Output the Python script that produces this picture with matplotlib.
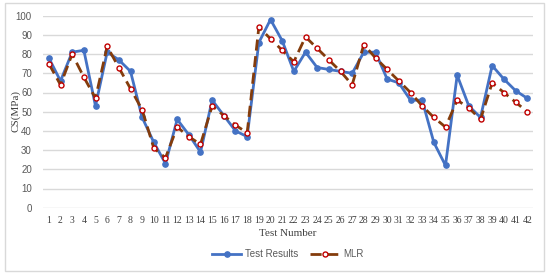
import matplotlib.pyplot as plt
from matplotlib.patches import Rectangle
import numpy as np

# Datos
tests = list(range(1, 43))
test_results = [78, 66, 81, 82, 53, 81, 77, 71, 47, 34, 23, 46, 38, 29, 56, 48, 40, 37, 86, 98, 87,
                71, 81, 73, 72, 71, 70, 81, 81, 67, 65, 56, 56, 34, 22, 69, 53, 47, 74, 67, 61, 57]
mlr = [75, 64, 80, 68, 57, 84, 73, 62, 51, 31, 26, 42, 37, 33, 53, 48, 43, 39, 94, 88, 82,
       76, 89, 83, 77, 71, 64, 85, 78, 72, 66, 60, 53, 47, 42, 56, 52, 46, 65, 60, 55, 50]
y_ticks = list(range(0, 101, 10))

fig = plt.figure(figsize=(5.5, 2.76), dpi=100)
ax = fig.add_axes([43 / 550, 1 - 207.7 / 276, 490 / 550, 192 / 276])

# Borde exterior del gráfico
fig.patches.append(Rectangle((5 / 550, 1 - 271 / 276), 539 / 550, 268 / 276,
                             transform=fig.transFigure, fill=False,
                             edgecolor='#d9d9d9', linewidth=1))

# Series
ax.plot(tests, test_results, color='#4472C4', linewidth=2, marker='o', markersize=3.8,
        markerfacecolor='#4472C4', markeredgecolor='#4472C4', label='Test Results', zorder=3)
ax.plot(tests, mlr, color='#843C0C', linewidth=2, linestyle=(0, (4, 2)), marker='o', markersize=3.6,
        markerfacecolor='white', markeredgecolor='#C00000', markeredgewidth=1, label='MLR', zorder=4)

ax.set_xlim(0.5, 42.5)
ax.set_ylim(0, 100)
ax.set_yticks(y_ticks)
ax.set_xticks(tests)
ax.set_xticklabels([str(t) for t in tests], fontfamily='Liberation Serif', fontsize=7, color='#404040')
ax.set_yticklabels([str(v) for v in y_ticks], fontfamily='Liberation Sans', fontsize=7, color='#595959')
ax.tick_params(length=0, pad=6)
ax.tick_params(axis='y', pad=8)

ax.grid(axis='y', color='#d9d9d9', linewidth=1)
ax.set_axisbelow(True)
for s in ax.spines.values():
    s.set_visible(False)

ax.set_xlabel('Test Number', fontfamily='Liberation Serif', fontsize=8, color='#404040', labelpad=3)
fig.text(16 / 550, 1 - 111 / 276, 'CS(MPa)', rotation=90, ha='center', va='center',
         fontfamily='Liberation Serif', fontsize=8, color='#404040')

ax.legend(loc='center', bbox_to_anchor=(0.5, (1 - 254 / 276 - (1 - 207.7 / 276)) / (192 / 276)),
          ncol=2, frameon=False, prop={'family': 'Liberation Sans', 'size': 7},
          labelcolor='#595959', handlelength=3, handletextpad=0.4, columnspacing=1.2)

fig.savefig('out.png', dpi=100)
